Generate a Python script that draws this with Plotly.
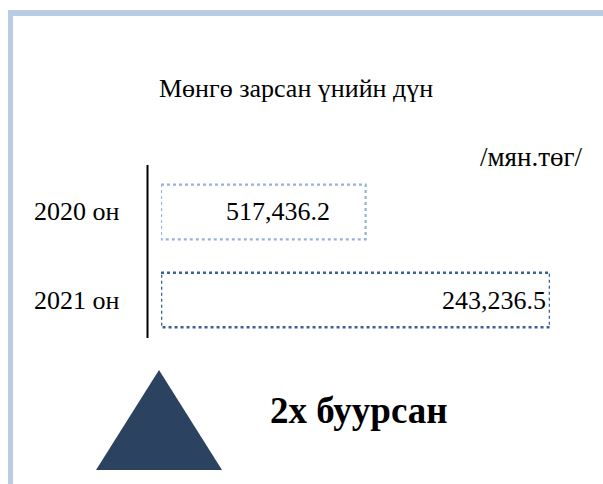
import plotly.graph_objects as go

# ---- data ----
categories = ["2020 он", "2021 он"]
values = [517436.2, 243236.5]
value_labels = ["517,436.2", "243,236.5"]
bar_lengths = [52.6, 100.0]   # relative box lengths as drawn in the picture
title_text = "Мөнгө зарсан үнийн дүн"
unit_text = "/мян.төг/"
note_text = "2х буурсан"

W, H = 603, 484
FONT = "'Times New Roman', Tinos, 'Liberation Serif', 'DejaVu Serif', serif"
line_colors = ["#95B3D7", "#3B6294"]
line_widths = [2.2, 2.6]
half_h = 0.31

fig = go.Figure()
for i, (cat, L) in enumerate(zip(categories, bar_lengths)):
    y0, y1 = i - half_h, i + half_h
    fig.add_trace(go.Scatter(
        x=[0, L, L, 0, 0], y=[y0, y0, y1, y1, y0],
        mode="lines", fill="toself", fillcolor="white",
        line=dict(color=line_colors[i], width=line_widths[i], dash="dot"),
        hoverinfo="skip", showlegend=False))

# value labels
fig.add_annotation(x=bar_lengths[0] * 0.57, y=0, xref="x", yref="y", text=value_labels[0],
                   xanchor="center", yanchor="middle",
                   showarrow=False, font=dict(family=FONT, size=26, color="black"))
fig.add_annotation(x=bar_lengths[1] - 0.4, y=1, xref="x", yref="y", text=value_labels[1],
                   xanchor="right", yanchor="middle",
                   showarrow=False, font=dict(family=FONT, size=26, color="black"))

# category labels
for i, cat in enumerate(categories):
    fig.add_annotation(x=76.5/W, y=i, xref="paper", yref="y", text=cat,
                       xanchor="center", yanchor="middle",
                       showarrow=False, font=dict(family=FONT, size=26, color="black"))

shapes = []
# frame (light blue left + top borders)
shapes.append(dict(type="rect", xref="paper", yref="paper", x0=8/W, x1=13/W, y0=0, y1=1-10/H,
                   fillcolor="#B8CCE4", line=dict(width=0), layer="below"))
shapes.append(dict(type="rect", xref="paper", yref="paper", x0=8/W, x1=1, y0=1-16/H, y1=1-10/H,
                   fillcolor="#B8CCE4", line=dict(width=0), layer="below"))
# vertical axis line
shapes.append(dict(type="line", xref="paper", yref="paper", x0=147.5/W, x1=147.5/W,
                   y0=1-338/H, y1=1-165/H, line=dict(color="black", width=2)))
# triangle
shapes.append(dict(type="path", xref="paper", yref="paper",
                   path=f"M {96/W},{1-470/H} L {222/W},{1-470/H} L {159/W},{1-370/H} Z",
                   fillcolor="#2B4260", line=dict(width=0)))
fig.update_layout(shapes=shapes)

fig.add_annotation(x=296/W, y=1-88/H, xref="paper", yref="paper", text=title_text,
                   xanchor="center", yanchor="middle",
                   showarrow=False, font=dict(family=FONT, size=26, color="black"))
fig.add_annotation(x=585/W, y=1-157/H, xref="paper", yref="paper", text=unit_text,
                   xanchor="right", yanchor="middle",
                   showarrow=False, font=dict(family=FONT, size=27, color="black"))
fig.add_annotation(x=268/W, y=1-410/H, xref="paper", yref="paper", text=f"<b>{note_text}</b>",
                   xanchor="left", yanchor="middle",
                   showarrow=False, font=dict(family=FONT, size=37, color="black"))

# axes: x domain from box left (161px) to long box right (550px)
fig.update_xaxes(domain=[161/W, 550/W], range=[0, 100], visible=False, fixedrange=True)
# y: categories centered at 212 and 300 px
fig.update_yaxes(domain=[1-344/H, 1-168/H], range=[1.5, -0.5], visible=False, fixedrange=True)

fig.update_layout(width=W, height=H, margin=dict(l=0, r=0, t=0, b=0),
                  paper_bgcolor="white", plot_bgcolor="white",
                  font=dict(family=FONT))
fig.write_html("out.html", config={"displayModeBar": False},
               post_script="document.body.style.margin='0';document.body.style.overflow='hidden';")
